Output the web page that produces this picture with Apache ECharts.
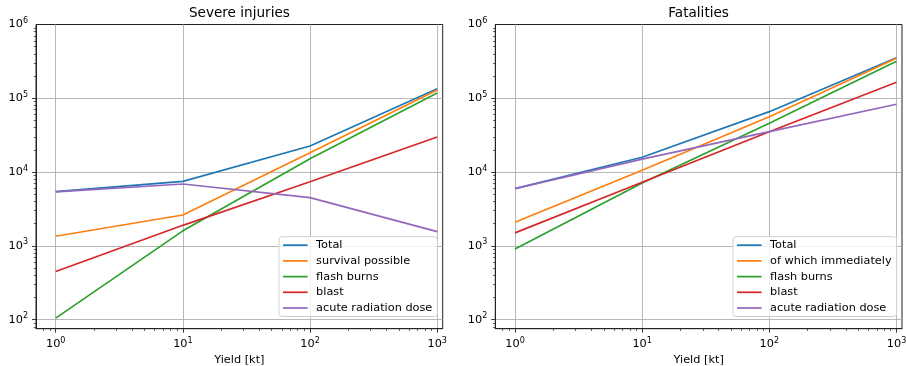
<!DOCTYPE html>
<html>
<head>
<meta charset="utf-8">
<script src="https://cdn.jsdelivr.net/npm/echarts@6/dist/echarts.min.js"></script>
<style>
  html, body { margin: 0; padding: 0; background: #fff; }
  #chart { width: 906px; height: 366px; }
</style>
</head>
<body>
<div id="chart"></div>
<script>
const yields = [1, 10, 100, 1000];

// Severe injuries
const injuryNames = ['Total', 'survival possible', 'flash burns', 'blast', 'acute radiation dose'];
const injTotal = [5450, 7500, 22600, 135000];
const injSurvival = [1350, 2620, 18300, 129500];
const injFlash = [105, 1600, 15200, 118000];
const injBlast = [450, 1900, 7400, 29900];
const injRadiation = [5400, 6900, 4500, 1560];

// Fatalities
const fatalityNames = ['Total', 'of which immediately', 'flash burns', 'blast', 'acute radiation dose'];
const fatTotal = [5960, 15900, 65900, 355000];
const fatImmediate = [2090, 10600, 56300, 348000];
const fatFlash = [908, 7100, 45800, 317000];
const fatBlast = [1500, 7270, 35300, 165000];
const fatRadiation = [5960, 15000, 35300, 83000];

const xMajor = [1, 10, 100, 1000];
const xMinor = [0.8, 0.9, 2, 3, 4, 5, 6, 7, 8, 9, 20, 30, 40, 50, 60, 70, 80, 90, 200, 300, 400, 500, 600, 700, 800, 900];
const yLabels = [100, 1e3, 1e4, 1e5, 1e6];
const yMajor = [100, 1e3, 1e4, 1e5];
const yMinor = [80, 90];
[100, 1e3, 1e4, 1e5].forEach(d => { for (let k = 2; k <= 9; k++) yMinor.push(d * k); });

const colors = ['#1f77b4', '#ff7f0e', '#2ca02c', '#d62728', '#9467bd'];
const font = 'DejaVu Sans';

const powLabel = v => '{b|10}{s|' + Math.round(Math.log10(v)) + '}';
const richSup = {
  b: { fontSize: 11.3, fontFamily: font, color: '#000' },
  s: { fontSize: 8, fontFamily: font, color: '#000', padding: [0, 0, 7, 0] }
};

const grids = [
  { left: 36, top: 24.5, width: 406.7, height: 304.2, show: true, borderColor: '#222', borderWidth: 1,
    backgroundColor: 'transparent', containLabel: false, outerBoundsMode: 'none' },
  { left: 495.3, top: 24.5, width: 406.7, height: 304.2, show: true, borderColor: '#222', borderWidth: 1,
    backgroundColor: 'transparent', containLabel: false, outerBoundsMode: 'none' }
];

const xAxes = [];
const yAxes = [];
[0, 1].forEach(g => {
  xAxes.push({
    type: 'log', gridIndex: g, min: 0.7, max: 1105, position: 'bottom',
    name: 'Yield [kt]', nameLocation: 'middle', nameGap: 24,
    nameTextStyle: { fontSize: 11.3, fontFamily: font, color: '#000' },
    axisLine: { show: true, lineStyle: { color: '#222', width: 1 } },
    axisTick: { show: true, length: 4, customValues: xMajor, lineStyle: { color: '#222', width: 0.9 } },
    axisLabel: { customValues: xMajor, margin: 8, formatter: powLabel, rich: richSup },
    splitLine: { show: true, lineStyle: { color: '#b0b0b0', width: 0.9 } }
  });
  xAxes.push({
    type: 'log', gridIndex: g, min: 0.7, max: 1105, position: 'bottom',
    axisLine: { show: false },
    axisTick: { show: true, length: 2.3, customValues: xMinor, lineStyle: { color: '#222', width: 0.7 } },
    axisLabel: { show: false },
    splitLine: { show: false }
  });
  yAxes.push({
    type: 'log', gridIndex: g, min: 75.5, max: 1e6, position: 'left',
    axisLine: { show: true, lineStyle: { color: '#222', width: 1 } },
    axisTick: { show: true, length: 4, customValues: yMajor, lineStyle: { color: '#222', width: 0.9 } },
    axisLabel: { customValues: yLabels, margin: 8, formatter: powLabel, rich: richSup },
    splitLine: { show: true, lineStyle: { color: '#b0b0b0', width: 0.9 } }
  });
  yAxes.push({
    type: 'log', gridIndex: g, min: 75.5, max: 1e6, position: 'left',
    axisLine: { show: false },
    axisTick: { show: true, length: 2.3, customValues: yMinor, lineStyle: { color: '#222', width: 0.7 } },
    axisLabel: { show: false },
    splitLine: { show: false }
  });
});

const makeSeries = (names, lists, g) => lists.map((vals, i) => ({
  name: names[i],
  type: 'line',
  xAxisIndex: g * 2,
  yAxisIndex: g * 2,
  data: yields.map((x, j) => [x, vals[j]]),
  symbol: 'none',
  lineStyle: { width: 1.7, color: colors[i] },
  itemStyle: { color: colors[i] },
  animation: false
}));

const legendBase = {
  orient: 'vertical',
  top: 236.7,
  icon: 'path://M0,0H100V7H0Z',
  symbolKeepAspect: true,
  itemWidth: 24.6,
  itemHeight: 12,
  itemGap: 4.7,
  padding: [3, 5, 3, 4],
  backgroundColor: 'rgba(255,255,255,0.8)',
  borderColor: '#d0d0d0',
  borderWidth: 1,
  borderRadius: 3,
  textStyle: { fontSize: 11.3, fontFamily: font, color: '#000', padding: [0, 0, 0, 3.5] }
};

const chart = echarts.init(document.getElementById('chart'));
chart.setOption({
  animation: false,
  color: colors,
  title: [
    { text: 'Severe injuries', left: 239.4, top: 6, textAlign: 'center', padding: 0,
      textStyle: { fontSize: 13.6, fontWeight: 'normal', fontFamily: font, color: '#000' } },
    { text: 'Fatalities', left: 698.6, top: 6, textAlign: 'center', padding: 0,
      textStyle: { fontSize: 13.6, fontWeight: 'normal', fontFamily: font, color: '#000' } }
  ],
  legend: [
    Object.assign({}, legendBase, { left: 279, data: injuryNames.slice() }),
    Object.assign({}, legendBase, { left: 733, data: fatalityNames.slice() })
  ],
  grid: grids,
  xAxis: xAxes,
  yAxis: yAxes,
  series: makeSeries(injuryNames, [injTotal, injSurvival, injFlash, injBlast, injRadiation], 0)
    .concat(makeSeries(fatalityNames, [fatTotal, fatImmediate, fatFlash, fatBlast, fatRadiation], 1))
});
</script>
</body>
</html>
